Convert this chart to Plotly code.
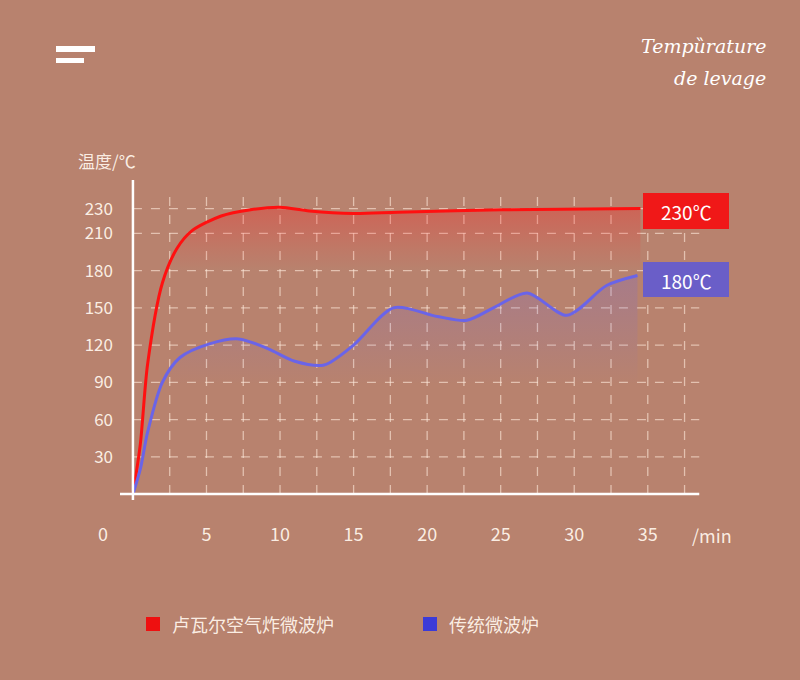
import plotly.graph_objects as go

red_x = [0, 0.5, 1, 2, 3, 4, 6, 8, 10, 12, 15, 18, 25, 34.5]
red_y = [0, 40, 105, 170, 198, 212, 224, 229, 231, 228, 226, 227, 229, 230]
blue_x = [0, 0.5, 1, 2, 3.2, 5.2, 7.2, 9.2, 11, 13, 15, 17.7, 20.7, 22.7, 24.5, 26.8, 29.5, 32.2, 34.3]
blue_y = [0, 20, 50, 90, 110, 121, 125, 117, 107, 104, 120, 150, 143, 140, 150, 162, 144, 168, 176]
x_ticks = [5, 10, 15, 20, 25, 30, 35]
y_ticks = [30, 60, 90, 120, 150, 180, 210, 230]
labels = ["230℃", "180℃"]
legend_names = ["卢瓦尔空气炸微波炉", "传统微波炉"]

F = "Noto Sans CJK SC"
W = "rgba(255,245,235,0.95)"
fig = go.Figure()
fig.add_trace(go.Scatter(x=red_x, y=red_y, mode="lines", line=dict(color="#ff1010", width=3, shape="spline", smoothing=0.8),
    fill="tozeroy", fillgradient=dict(type="vertical", colorscale=[[0, "rgba(255,40,40,0)"], [0.78, "rgba(255,40,40,0)"], [1, "rgba(255,30,30,0.3)"]])))
fig.add_trace(go.Scatter(x=blue_x, y=blue_y, mode="lines", line=dict(color="#6a64e8", width=3, shape="spline", smoothing=0.8),
    fill="tozeroy", fillgradient=dict(type="vertical", colorscale=[[0, "rgba(110,100,230,0)"], [0.5, "rgba(110,100,230,0)"], [1, "rgba(110,100,230,0.22)"]])))

G = "rgba(255,235,220,0.6)"
shapes = [
    dict(type="line", xref="x", yref="y", x0=0, x1=0, y0=-5, y1=253, line=dict(color="white", width=2.5)),
    dict(type="line", xref="x", yref="y", x0=-0.9, x1=38.5, y0=0, y1=0, line=dict(color="white", width=2.5)),
]
for i in range(1, 16):
    shapes.append(dict(type="line", xref="x", yref="y", x0=i*2.5, x1=i*2.5, y0=0, y1=240, layer="below",
                       line=dict(color=G, width=1.3, dash="dash")))
for v in y_ticks:
    shapes.append(dict(type="line", xref="x", yref="y", x0=0, x1=38.5, y0=v, y1=v, layer="below",
                       line=dict(color=G, width=1.3, dash="dash")))

L, R, T, B = 120, 100, 180, 180
pw, ph = 800 - L - R, 680 - T - B
def px_x(px): return (px - L) / pw
def px_y(py): return (680 - B - py) / ph

def pa(x, y, text, size, xa="center", fam=F, color=W):
    return dict(x=px_x(x), y=px_y(y), xref="paper", yref="paper", xanchor=xa, yanchor="middle",
                text=text, showarrow=False, font=dict(color=color, size=size, family=fam))

ann = [
    pa(686, 211, labels[0], 19, color="white"),
    pa(686, 280, labels[1], 19, color="white"),
    pa(107, 160, "温度/℃", 17),
    pa(103, 533, "0", 18),
    pa(712, 535, "/min", 18),
    pa(768, 46, "<i>Tempȕrature</i>", 19, "right", "DejaVu Serif", "white"),
    pa(768, 78, "<i>de levage</i>", 19, "right", "DejaVu Serif", "white"),
    pa(170, 624, legend_names[0], 18, "left"),
    pa(447, 624, legend_names[1], 18, "left"),
]
def prect(x0, x1, y0, y1, c):
    return dict(type="rect", xref="paper", yref="paper", x0=px_x(x0), x1=px_x(x1), y0=px_y(y0), y1=px_y(y1), fillcolor=c, line=dict(width=0))
shapes += [
    prect(643, 729, 193, 229, "#f01818"),
    prect(643, 729, 262, 297, "#6a5ec8"),
    prect(146, 160, 617, 631, "#ee1010"),
    prect(423, 437, 617, 631, "#3b3bd8"),
    prect(56, 95, 46, 52, "white"),
    prect(56, 84, 58, 63, "white"),
]

fig.update_layout(
    width=800, height=680, margin=dict(l=L, r=R, t=T, b=B), showlegend=False,
    paper_bgcolor="#b8826e", plot_bgcolor="rgba(0,0,0,0)",
    shapes=shapes, annotations=ann,
    xaxis=dict(range=[-0.88, 38.55], tickvals=x_ticks, showgrid=False, zeroline=False, showline=False,
               tickfont=dict(color=W, size=18, family=F), ticks="", ticklabelstandoff=22),
    yaxis=dict(range=[-4.8, 253], tickvals=y_ticks, showgrid=False, zeroline=False, showline=False,
               tickfont=dict(color=W, size=17, family=F), ticks="", ticklabelstandoff=6),
)
fig.write_html("out.html", config={"displayModeBar": False}, post_script="document.body.style.margin='0';")
